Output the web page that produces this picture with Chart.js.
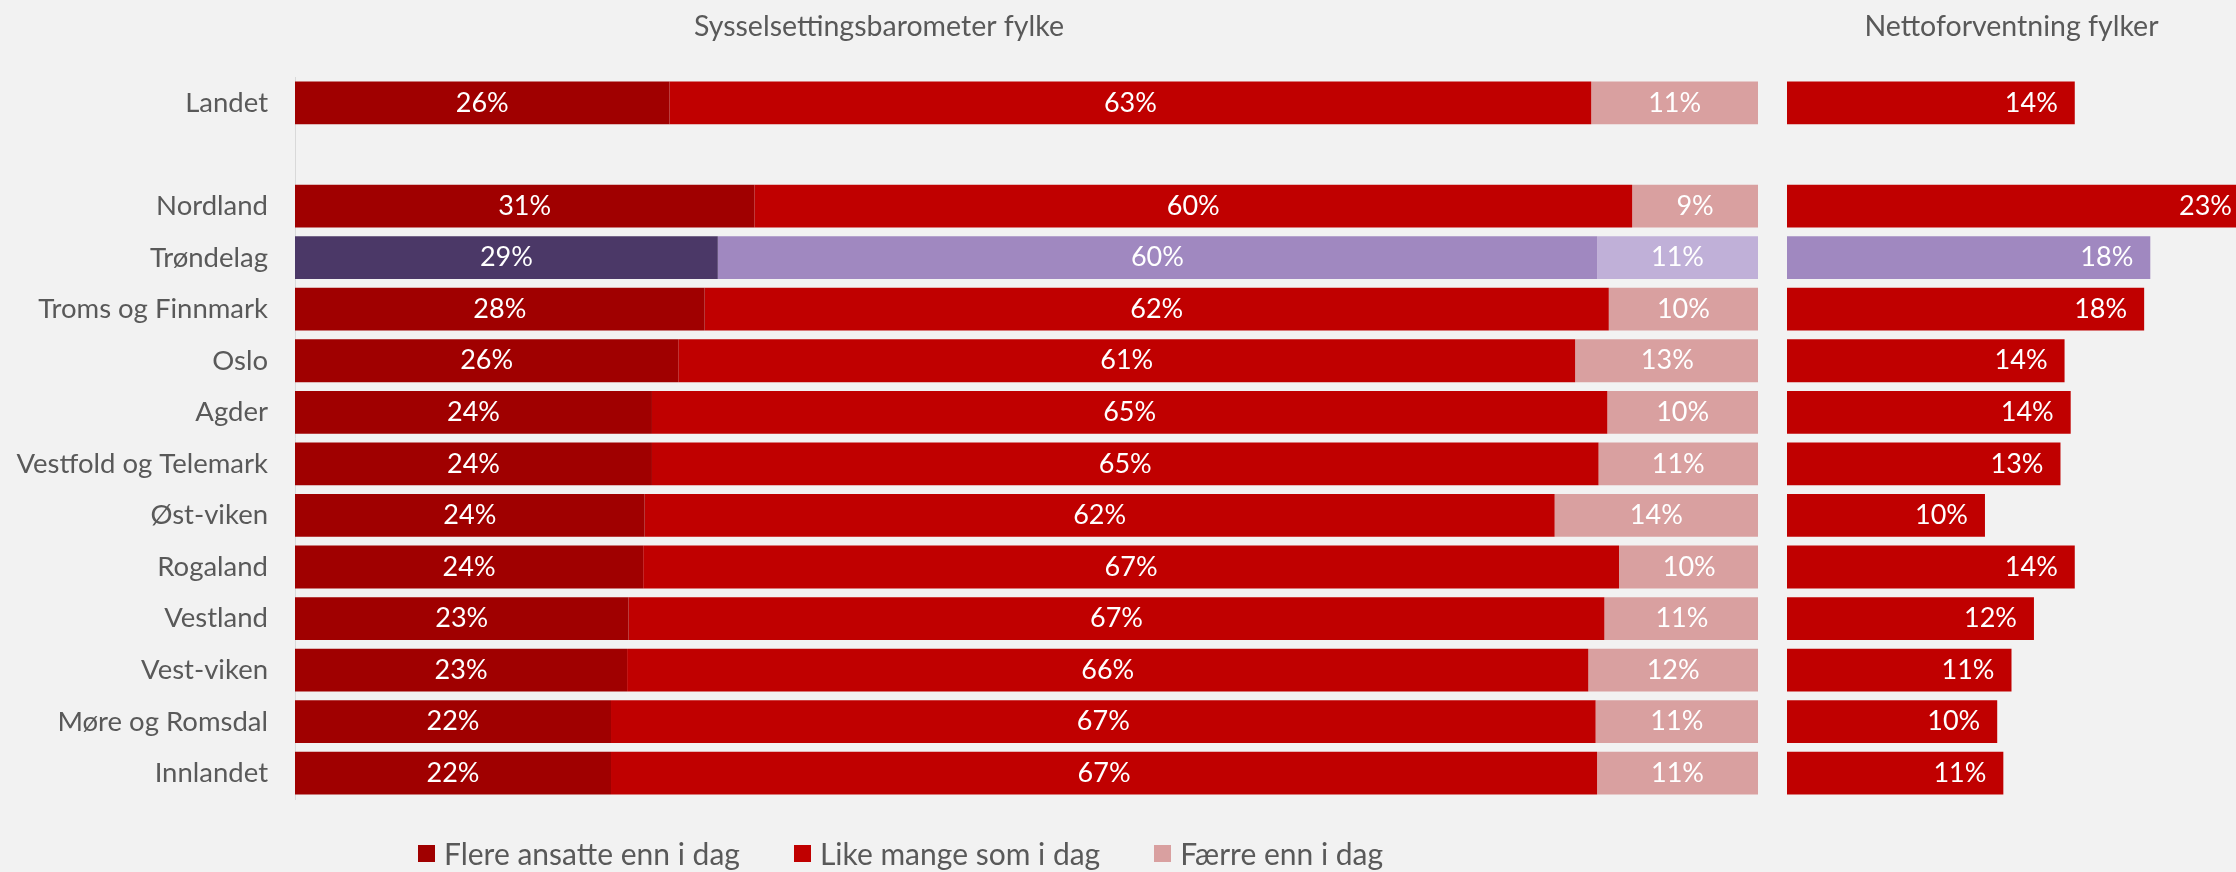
<!DOCTYPE html>
<html>
<head>
<meta charset="utf-8">
<script src="https://cdn.jsdelivr.net/npm/chart.js@4.4.0/dist/chart.umd.min.js"></script>
<style>
  body { margin: 0; background: #f2f2f2; }
  #left  { position: absolute; left: 0; top: 0; width: 1768px; height: 872px; }
  #right { position: absolute; left: 1768px; top: 0; width: 468px; height: 872px; }
  #legend {
    position: absolute; left: 418px; top: 837px; height: 32px;
    display: flex; align-items: center; gap: 54px;
    font-family: Lato, "Noto Sans", sans-serif; font-size: 30px; color: #595959;
  }
  #legend .item { display: flex; align-items: center; gap: 9px; white-space: nowrap; }
  #legend .box { width: 17px; height: 17px; display: inline-block; }
</style>
</head>
<body>
<div id="left"><canvas id="barometer"></canvas></div>
<div id="right"><canvas id="netto"></canvas></div>
<div id="legend"></div>
<script>
const FONT = 'Lato, "Noto Sans", sans-serif';
const TEXT_GREY = '#595959';

// categories (empty slot between Landet and the counties)
const regions = ['Landet', '', 'Nordland', 'Trøndelag', 'Troms og Finnmark', 'Oslo', 'Agder',
  'Vestfold og Telemark', 'Øst-viken', 'Rogaland', 'Vestland', 'Vest-viken', 'Møre og Romsdal', 'Innlandet'];
const highlight = 'Trøndelag';

// share of companies, percent
const flere  = [25.6, null, 31.4, 28.9, 28.0, 26.2, 24.4, 24.4, 23.9, 23.8, 22.8, 22.7, 21.6, 21.6];
const like   = [63.0, null, 60.0, 60.1, 61.8, 61.3, 65.3, 64.7, 62.2, 66.7, 66.7, 65.7, 67.3, 67.4];
const faerre = [11.4, null,  8.6, 11.0, 10.2, 12.6, 10.3, 10.9, 13.9,  9.6, 10.6, 11.6, 11.1, 11.0];
// net expectation (flere - faerre), percent
const netto  = [14.1, null, 22.9, 17.8, 17.5, 13.6, 13.9, 13.4,  9.7, 14.1, 12.1, 11.0, 10.3, 10.6];

const seriesNames = ['Flere ansatte enn i dag', 'Like mange som i dag', 'Færre enn i dag'];
const redColors = ['#a00000', '#c00000', '#d9a0a0'];
const purpleColors = ['#4b3867', '#a088c0', '#c0b0d8'];

function pickColor(i) {
  return (c) => regions[c.dataIndex] === highlight ? purpleColors[i] : redColors[i];
}

// white value labels inside the bars
const barLabels = {
  id: 'barLabels',
  afterDatasetsDraw(chart, args, opts) {
    const { ctx, chartArea } = chart;
    ctx.save();
    ctx.font = `27px ${FONT}`;
    ctx.fillStyle = '#ffffff';
    ctx.textBaseline = 'middle';
    chart.data.datasets.forEach((ds, i) => {
      chart.getDatasetMeta(i).data.forEach((bar, j) => {
        const v = ds.data[j];
        if (v === null || v === undefined) return;
        const txt = Math.round(v) + '%';
        if (opts.align === 'end') {
          ctx.textAlign = 'right';
          ctx.fillText(txt, Math.min(bar.x - 17, chartArea.right - 4), bar.y);
        } else {
          ctx.textAlign = 'center';
          ctx.fillText(txt, (bar.x + bar.base) / 2, bar.y);
        }
      });
    });
    ctx.restore();
  }
};

const titleOpts = (text) => ({
  display: true,
  text: text,
  color: TEXT_GREY,
  font: { family: FONT, size: 28.5, weight: 'normal' },
  padding: { top: 10, bottom: 33 }
});

new Chart(document.getElementById('barometer'), {
  type: 'bar',
  data: {
    labels: regions,
    datasets: [flere, like, faerre].map((d, i) => ({
      label: seriesNames[i],
      data: d,
      backgroundColor: pickColor(i)
    }))
  },
  options: {
    indexAxis: 'y',
    responsive: true,
    maintainAspectRatio: false,
    animation: false,
    layout: { padding: { right: 10 } },
    datasets: { bar: { categoryPercentage: 1, barPercentage: 0.83 } },
    scales: {
      x: {
        stacked: true, min: 0, max: 100,
        grid: { display: false, drawTicks: false },
        border: { display: false },
        ticks: { display: false },
        afterFit: (s) => { s.height = 73; }
      },
      y: {
        stacked: true,
        grid: { display: false, drawTicks: false },
        border: { display: true, color: '#d9d9d9' },
        ticks: { color: TEXT_GREY, font: { family: FONT, size: 27.5 }, padding: 27, autoSkip: false },
        afterFit: (s) => { s.width = 295; }
      }
    },
    plugins: {
      title: titleOpts('Sysselsettingsbarometer fylke'),
      legend: { display: false },
      tooltip: { enabled: false },
      barLabels: { align: 'center' }
    }
  },
  plugins: [barLabels]
});

new Chart(document.getElementById('netto'), {
  type: 'bar',
  data: {
    labels: regions,
    datasets: [{
      label: 'Nettoforventning',
      data: netto,
      backgroundColor: (c) => regions[c.dataIndex] === highlight ? purpleColors[1] : redColors[1]
    }]
  },
  options: {
    indexAxis: 'y',
    responsive: true,
    maintainAspectRatio: false,
    animation: false,
    layout: { padding: { left: 19 } },
    datasets: { bar: { categoryPercentage: 1, barPercentage: 0.83 } },
    scales: {
      x: {
        min: 0, max: 22,
        grid: { display: false, drawTicks: false },
        border: { display: false },
        ticks: { display: false },
        afterFit: (s) => { s.height = 73; }
      },
      y: { display: false }
    },
    plugins: {
      title: titleOpts('Nettoforventning fylker'),
      legend: { display: false },
      tooltip: { enabled: false },
      barLabels: { align: 'end' }
    }
  },
  plugins: [barLabels]
});

// legend for the three answer categories
const legendEl = document.getElementById('legend');
seriesNames.forEach((name, i) => {
  const item = document.createElement('span');
  item.className = 'item';
  const box = document.createElement('span');
  box.className = 'box';
  box.style.background = redColors[i];
  const label = document.createElement('span');
  label.textContent = name;
  item.appendChild(box);
  item.appendChild(label);
  legendEl.appendChild(item);
});
</script>
</body>
</html>
